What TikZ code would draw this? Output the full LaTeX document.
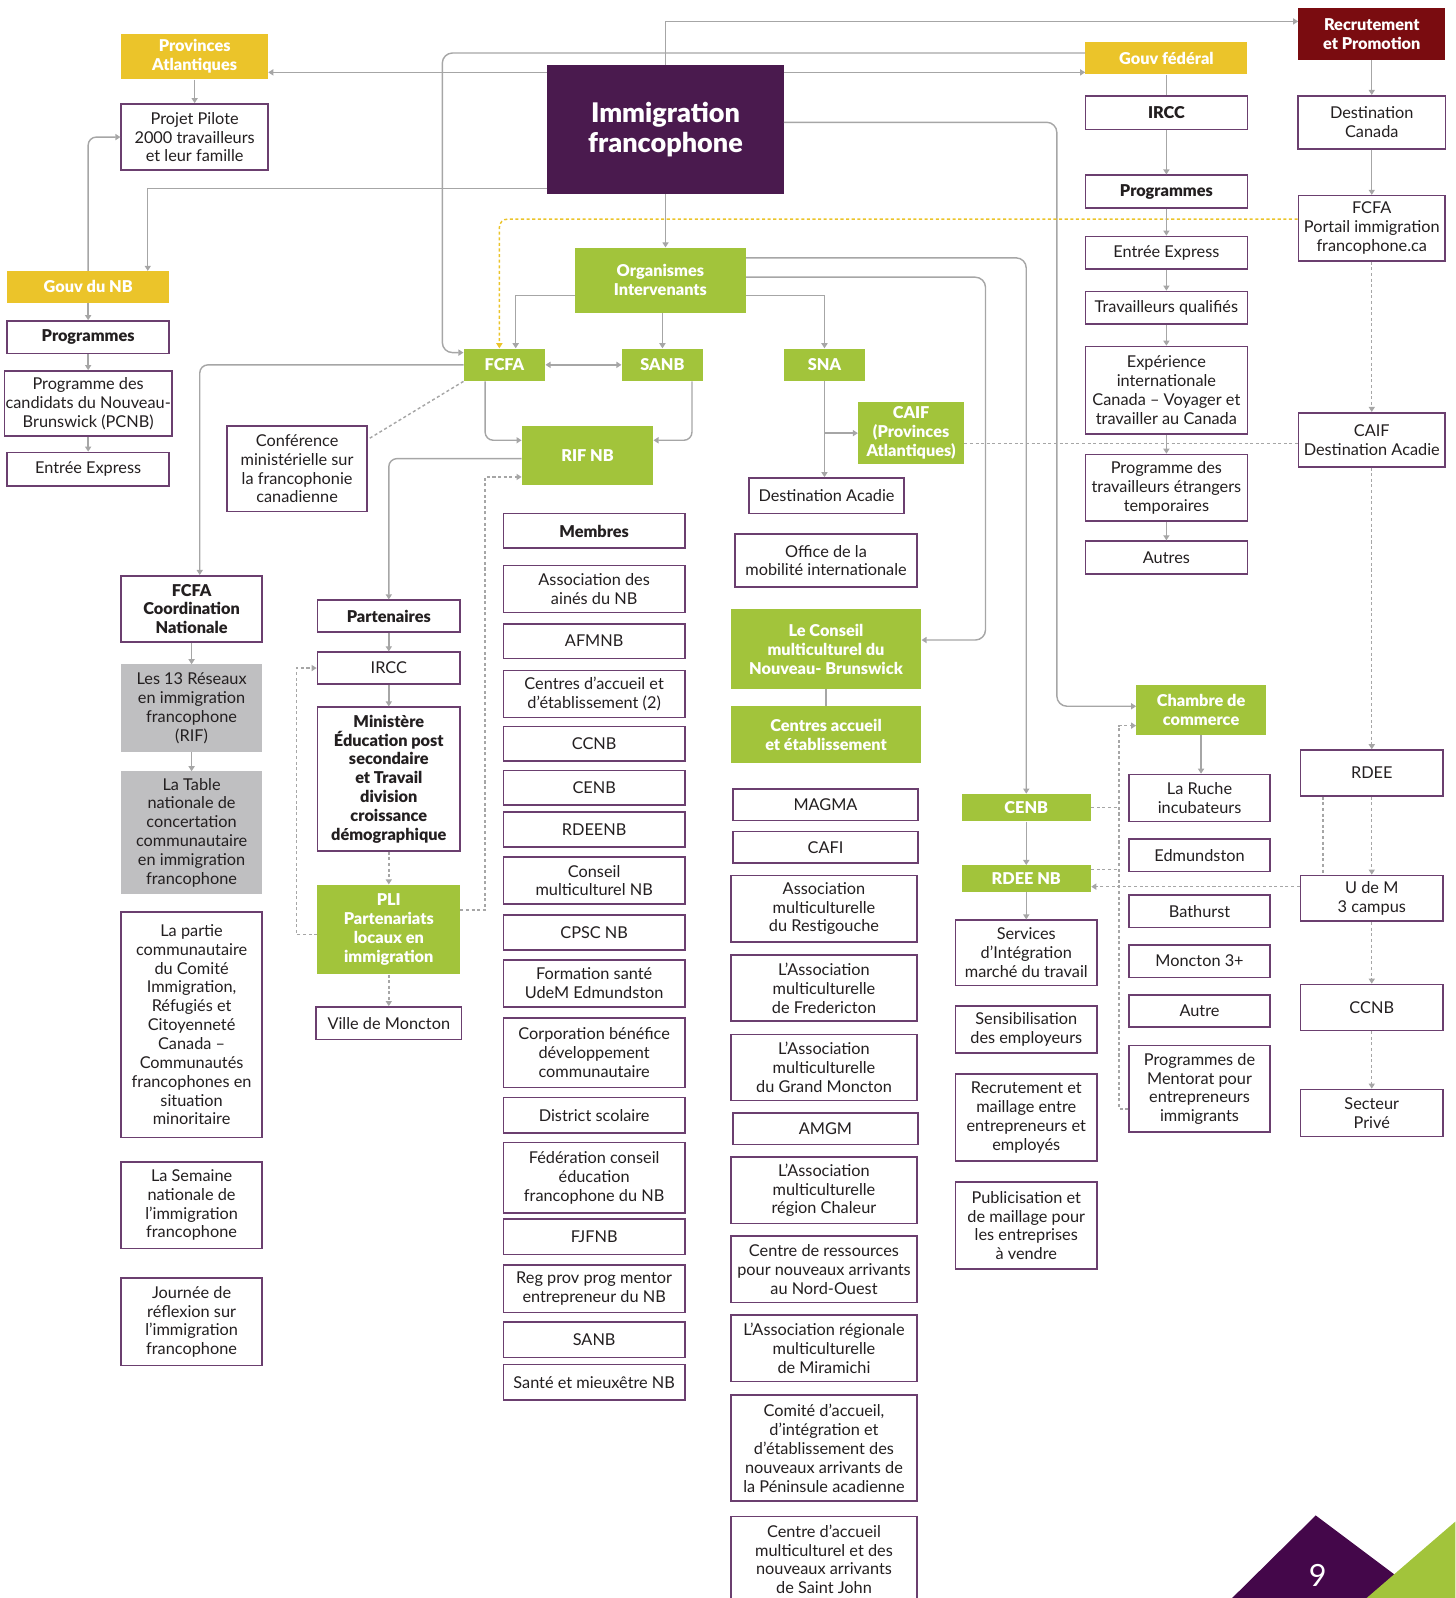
\documentclass[tikz,border=0pt]{standalone}
\usepackage{fontspec}
\setmainfont{Lato}[BoldFont={Lato Black}]
\usetikzlibrary{arrows.meta}
\definecolor{plum}{HTML}{4A1A4E}
\definecolor{leaf}{HTML}{A2C43B}
\definecolor{gold}{HTML}{EBC42A}
\definecolor{wine}{HTML}{7A0C10}
\definecolor{frame}{HTML}{6B3F6F}
\definecolor{wire}{HTML}{A6A6A6}
\definecolor{ash}{HTML}{BFBFC1}
\definecolor{ink}{HTML}{231F20}
\definecolor{deep}{HTML}{44074A}
\begin{document}
\begin{tikzpicture}[x=1pt,y=-1pt,
    every node/.style={align=center,inner sep=1pt,text=ink,font=\fontsize{16}{18.5}\selectfont},
    box/.style={draw=frame,line width=1.6pt,fill=white},
    bold/.style={font=\fontsize{16}{18.5}\selectfont\bfseries},
    leafbox/.style={fill=leaf,text=white,bold},
    goldbox/.style={fill=gold,text=white,bold},
    ashbox/.style={fill=ash},
    nbcol/.style={minimum width=159},
    fedcol/.style={minimum width=159},
    rtcol/.style={minimum width=140},
    fccol/.style={minimum width=138},
    pacol/.style={minimum width=140},
    mecol/.style={minimum width=178},
    cecol/.style={minimum width=183},
    secol/.style={minimum width=139},
    chcol/.style={minimum width=138},
    ln/.style={draw=wire,line width=1.4pt,-{Triangle[width=6pt,length=5pt]}},
    pl/.style={draw=wire,line width=1.4pt},
    dt/.style={draw=wire,line width=1.4pt,dash pattern=on 3pt off 2.5pt},
    dta/.style={dt,-{Triangle[width=6pt,length=5pt]}},
    yd/.style={draw=gold,line width=1.4pt,dash pattern=on 3pt off 2.5pt,-{Triangle[width=6pt,length=5pt]}}]
  \useasboundingbox (0,0) rectangle (1428,1568);
  \clip (0,0) rectangle (1428,1568);

  %Top
  \node[goldbox,minimum width=144,minimum height=45] (prov) at (191,55.5) {Provinces\\Atlantiques};
  \node[box,minimum width=144,minimum height=65] (pilote) at (191,134.5) {Projet Pilote\\2000 travailleurs\\et leur famille};
  \node[fill=plum,text=white,font=\fontsize{26.5}{30}\selectfont\bfseries,minimum width=232,minimum height=126] (imm) at (653,127) {Immigration\\francophone};
  \node[goldbox,fedcol,minimum height=32] (gouvfed) at (1144.5,57) {Gouv fédéral};
  \node[fill=wine,text=white,bold,minimum width=144,minimum height=51] (recrut) at (1346,33.5) {Recrutement\\et Promotion};

  %Gouv federal
  \node[box,fedcol,bold,minimum height=33] (fedIrcc) at (1144.5,110.5) {IRCC};
  \node[box,fedcol,bold,minimum height=32] (fedProg) at (1144.5,188) {Programmes};
  \node[box,fedcol,minimum height=32] (fedEE) at (1144.5,248) {Entrée Express};
  \node[box,fedcol,minimum height=32] (fedTQ) at (1144.5,302) {Travailleurs qualifiés};
  \node[box,fedcol,minimum height=86] (fedEIC) at (1144.5,383) {Expérience\\internationale\\Canada – Voyager et\\travailler au Canada};
  \node[box,fedcol,minimum height=65] (fedPTET) at (1144.5,478.5) {Programme des\\travailleurs étrangers\\temporaires};
  \node[box,fedcol,minimum height=32] (fedAutres) at (1144.5,547) {Autres};

  %Recrutement
  \node[box,minimum width=145,minimum height=52] (destCan) at (1346,120) {Destination\\Canada};
  \node[box,minimum width=144,minimum height=64] (portail) at (1346,224) {FCFA\\Portail immigration\\francophone.ca};
  \node[box,minimum width=144,minimum height=53] (caifDA) at (1346,431.5) {CAIF\\Destination Acadie};
  \node[box,rtcol,minimum height=45] (rdee) at (1346,758.5) {RDEE};
  \node[box,rtcol,minimum height=45] (udem) at (1346,881.5) {U de M\\3 campus};
  \node[box,rtcol,minimum height=45] (ccnbR) at (1346,988.5) {CCNB};
  \node[box,rtcol,minimum height=46] (secteur) at (1346,1092) {Secteur\\Privé};

  %Gouv NB
  \node[goldbox,nbcol,minimum height=31] (gouvnb) at (86.5,281.5) {Gouv du NB};
  \node[box,nbcol,bold,minimum height=32] (nbProg) at (86.5,331) {Programmes};
  \node[box,nbcol,minimum height=64] (nbPCNB) at (86.5,396) {Programme des\\candidats du Nouveau-\\Brunswick (PCNB)};
  \node[box,nbcol,minimum height=33] (nbEE) at (86.5,460.5) {Entrée Express};

  %Organismes
  \node[leafbox,minimum width=168,minimum height=64] (org) at (648,275) {Organismes\\Intervenants};
  \node[leafbox,minimum width=80,minimum height=32] (fcfa) at (495,358) {FCFA};
  \node[leafbox,minimum width=80,minimum height=32] (sanb) at (650,358) {SANB};
  \node[leafbox,minimum width=80,minimum height=32] (sna) at (809,358) {SNA};
  \node[leafbox,minimum width=129,minimum height=58] (rifnb) at (576.5,447) {RIF NB};
  \node[leafbox,minimum width=104,minimum height=61] (caifpa) at (894,425) {CAIF\\(Provinces\\Atlantiques)};
  \node[box,minimum width=152,minimum height=35] (destAc) at (811,486.5) {Destination Acadie};
  \node[box,minimum width=137,minimum height=84] (conf) at (291.5,460) {Conférence\\ministérielle sur\\la francophonie\\canadienne};

  %FCFA column
  \node[box,fccol,bold,minimum height=65] (fcfaCoord) at (188,597.5) {FCFA\\Coordination\\Nationale};
  \node[ashbox,fccol,minimum height=86] (rif13) at (188,695) {Les 13 Réseaux\\en immigration\\francophone\\(RIF)};
  \node[ashbox,fccol,minimum height=120] (table) at (188,817) {La Table\\nationale de\\concertation\\communautaire\\en immigration\\francophone};
  \node[box,fccol,minimum height=221] (partie) at (188,1005.5) {La partie\\communautaire\\du Comité\\Immigration,\\Réfugiés et\\Citoyenneté\\Canada –\\Communautés\\francophones en\\situation\\minoritaire};
  \node[box,fccol,minimum height=85] (semaine) at (188,1182.5) {La Semaine\\nationale de\\l’immigration\\francophone};
  \node[box,fccol,minimum height=86] (journee) at (188,1297) {Journée de\\réflexion sur\\l'immigration\\francophone};

  %Partenaires
  \node[box,pacol,bold,minimum height=31] (part) at (381.5,604.5) {Partenaires};
  \node[box,pacol,minimum height=31] (pIrcc) at (381.5,655.5) {IRCC};
  \node[box,pacol,bold,minimum height=141] (minist) at (381.5,764.5) {Ministère\\Éducation post\\secondaire\\et Travail\\division\\croissance\\démographique};
  \node[leafbox,pacol,minimum height=88] (pli) at (381.5,912) {PLI\\Partenariats\\locaux en\\immigration};
  \node[box,minimum width=143,minimum height=32] (ville) at (381.5,1004) {Ville de Moncton};

  %Membres
  \node[box,mecol,bold,minimum height=34] (membres) at (583,521) {Membres};
  \foreach \n/\y/\h/\t in {1/578/46/Association des\\ainés du NB, 2/629/34/AFMNB,
      3/681/46/Centres d'accueil et\\d'établissement (2), 4/730/34/CCNB, 5/773/34/CENB,
      6/814/34/RDEENB, 7/864/46/Conseil\\multiculturel NB, 8/915/34/CPSC NB,
      9/965/46/Formation santé\\UdeM Edmundston, 10/1033/68/Corporation bénéfice\\développement\\communautaire,
      11/1094.5/35/District scolaire, 12/1155.5/69/Fédération conseil\\éducation\\francophone du NB,
      13/1213.5/35/FJFNB, 14/1264.5/47/Reg prov prog mentor\\entrepreneur du NB,
      15/1314.5/35/SANB, 16/1356.5/35/Santé et mieuxêtre NB}
    \node[box,mecol,minimum height=\h] (mem\n) at (583,\y) {\t};

  %SNA column
  \node[box,minimum width=179,minimum height=52] (office) at (810.5,550) {Office de la\\mobilité internationale};
  \node[leafbox,minimum width=187,minimum height=78] (conseil) at (810.5,637) {Le Conseil\\multiculturel du\\Nouveau- Brunswick};
  \node[leafbox,minimum width=187,minimum height=56] (centres) at (810.5,721) {Centres accueil\\et établissement};
  \node[box,minimum width=182,minimum height=31] (magma) at (810,789.5) {MAGMA};
  \node[box,minimum width=182,minimum height=31] (cafi) at (810,831.5) {CAFI};
  \node[box,minimum width=182,minimum height=31] (amgm) at (810,1107.5) {AMGM};
  \foreach \n/\y/\t in {1/891.5/Association\\multiculturelle\\du Restigouche,
      2/969.5/L'Association\\multiculturelle\\de Fredericton,
      3/1047.5/L'Association\\multiculturelle\\du Grand Moncton,
      4/1168/L’Association\\multiculturelle\\région Chaleur,
      5/1245.5/Centre de ressources\\pour nouveaux arrivants\\au Nord-Ouest,
      6/1323/L’Association régionale\\multiculturelle\\de Miramichi}
    \node[box,cecol,minimum height=65] (asso\n) at (808.5,\y) {\t};
  \node[box,cecol,minimum height=104] (asso7) at (808.5,1421) {Comité d’accueil,\\d’intégration et\\d’établissement des\\nouveaux arrivants de\\la Péninsule acadienne};
  \node[box,cecol,minimum height=84] (asso8) at (808.5,1530) {Centre d’accueil\\multiculturel et des\\nouveaux arrivants\\de Saint John};

  %CENB column
  \node[leafbox,minimum width=127,minimum height=27] (cenb) at (1007,792.5) {CENB};
  \node[leafbox,minimum width=127,minimum height=26] (rdeenb) at (1007,862) {RDEE NB};
  \node[box,secol,minimum height=64] (serv) at (1007,935) {Services\\d'Intégration\\marché du travail};
  \node[box,secol,minimum height=46] (sens) at (1007,1010) {Sensibilisation\\des employeurs};
  \node[box,secol,minimum height=85] (recm) at (1007,1096.5) {Recrutement et\\maillage entre\\entrepreneurs et\\employés};
  \node[box,secol,minimum height=85] (publ) at (1007,1202.5) {Publicisation et\\de maillage pour\\les entreprises\\à vendre};

  %Chambre de commerce
  \node[leafbox,minimum width=127,minimum height=49] (chambre) at (1178.5,696.5) {Chambre de\\commerce};
  \foreach \n/\y/\h/\t in {ruche/783/46/La Ruche\\incubateurs, edm/839/32/Edmundston,
      bath/894/32/Bathurst, monc/943/32/Moncton 3+, autre/992/32/Autre,
      mentor/1068.5/85/Programmes de\\Mentorat pour\\entrepreneurs\\immigrants}
    \node[box,chcol,minimum height=\h] (\n) at (1177,\y) {\t};

  %Links from Immigration francophone
  \draw[ln] (imm.north) |- ([yshift=12.5pt]recrut.west);
  \draw[ln] ([yshift=56pt]imm.west) -- ([yshift=-15.5pt]prov.east);
  \draw[ln] ([yshift=56pt]imm.east) -- ([yshift=-14pt]gouvfed.west);
  \draw[ln] ([yshift=-58pt]imm.west) -| ([xshift=58.5pt]gouvnb.north);
  \draw[ln,rounded corners=10] ([yshift=7pt]imm.east) -| (1037,400) |- ([yshift=3.5pt]chambre.west);
  \draw[ln] (imm.south) -- (imm.south |- org.north);
  \draw[ln,rounded corners=10] ([yshift=5pt]gouvfed.west) -| (434,200) |- ([yshift=12pt]fcfa.west);
  \draw[yd,rounded corners=8] ([yshift=9pt]portail.west) -| ([xshift=-5pt]fcfa.north);
  \draw[ln] (prov) -- (pilote);
  \draw[ln,rounded corners=8] (gouvnb.north) |- (pilote.west);

  %Chains
  \foreach \a/\b in {gouvnb/nbProg,nbProg/nbPCNB,nbPCNB/nbEE,fedIrcc/fedProg,fedProg/fedEE,
      fedEE/fedTQ,fedTQ/fedEIC,fedEIC/fedPTET,fedPTET/fedAutres,recrut/destCan,destCan/portail,
      fcfaCoord/rif13,rif13/table,part/pIrcc,pIrcc/minist,cenb/rdeenb,rdeenb/serv}
    \draw[ln] (\a) -- (\b);
  \foreach \a/\b in {portail/caifDA,caifDA/rdee,rdee/udem,udem/ccnbR,ccnbR/secteur,minist/pli,pli/ville}
    \draw[dta] (\a) -- (\b);
  \draw[pl] (gouvfed) -- (fedIrcc);
  \draw[pl] (conseil) -- (centres);

  %Organismes
  \draw[ln] ([yshift=-15pt]org.west) -| ([xshift=11pt]fcfa.north);
  \draw[ln] (sanb.north |- org.south) -- (sanb.north);
  \draw[ln] ([yshift=-15pt]org.east) -| (sna.north);
  \draw[ln,rounded corners=10] ([yshift=22pt]org.east) -| (cenb.north);
  \draw[ln,rounded corners=10] ([yshift=3pt]org.east) -| (967,450) |- ([yshift=9pt]conseil.east);

  %FCFA, SANB, SNA
  \draw[ln,{Triangle[width=6pt,length=5pt]}-{Triangle[width=6pt,length=5pt]}] (fcfa) -- (sanb);
  \draw[ln,rounded corners=8] ([xshift=-19pt]fcfa.south) |- ([yshift=15pt]rifnb.west);
  \draw[ln,rounded corners=8] ([xshift=29pt]sanb.south) |- ([yshift=15pt]rifnb.east);
  \draw[ln,rounded corners=8] (fcfa.west) -| ([xshift=8pt]fcfaCoord.north);
  \draw[dt] (fcfa.south west) -- ([yshift=-14pt]conf.north east);
  \draw[ln] (sna.south) -- (sna.south |- destAc.north);
  \draw[ln] (sna.south |- caifpa.west) -- (caifpa.west);
  \draw[dt] ([yshift=-10pt]caifpa.east) -- ([yshift=-3.5pt]caifDA.west);

  %RIF NB
  \draw[ln,rounded corners=8] ([yshift=-3pt]rifnb.west) -| (part.north);
  \draw[dta] ([yshift=19pt]pli.east) -| (476,700) |- ([yshift=-21pt]rifnb.west);
  \draw[dta] ([yshift=-5pt]pli.west) -| (291,800) |- (pIrcc.west);

  %Chambre, CENB, RDEE
  \coordinate (bus) at (1098,1088);
  \draw[ln] (chambre.south) -- (chambre.south |- ruche.north);
  \draw[dta] ([yshift=-19.5pt]mentor.west) -- (bus) |- ([yshift=-15.5pt]chambre.west);
  \draw[dt] (cenb.east) -- ++(27.5,0);
  \draw[dt] ([yshift=9pt]rdeenb.east) -- ++(27.5,0);
  \draw[dt] ([xshift=-48pt]rdee.south) -- ([xshift=-48pt]udem.north);
  \draw[dta] ([yshift=11.5pt]udem.west) -- ([yshift=-8pt]rdeenb.east);

  %Page corner
  \fill[deep] (1209,1568) -- (1291,1487) -- (1399,1568) -- cycle;
  \fill[leaf] (1341,1568) -- (1428,1493) -- (1428,1568) -- cycle;
  \node[text=white,font=\fontsize{30}{30}\selectfont] (pagenum) at (1293,1546) {9};
\end{tikzpicture}
\end{document}
